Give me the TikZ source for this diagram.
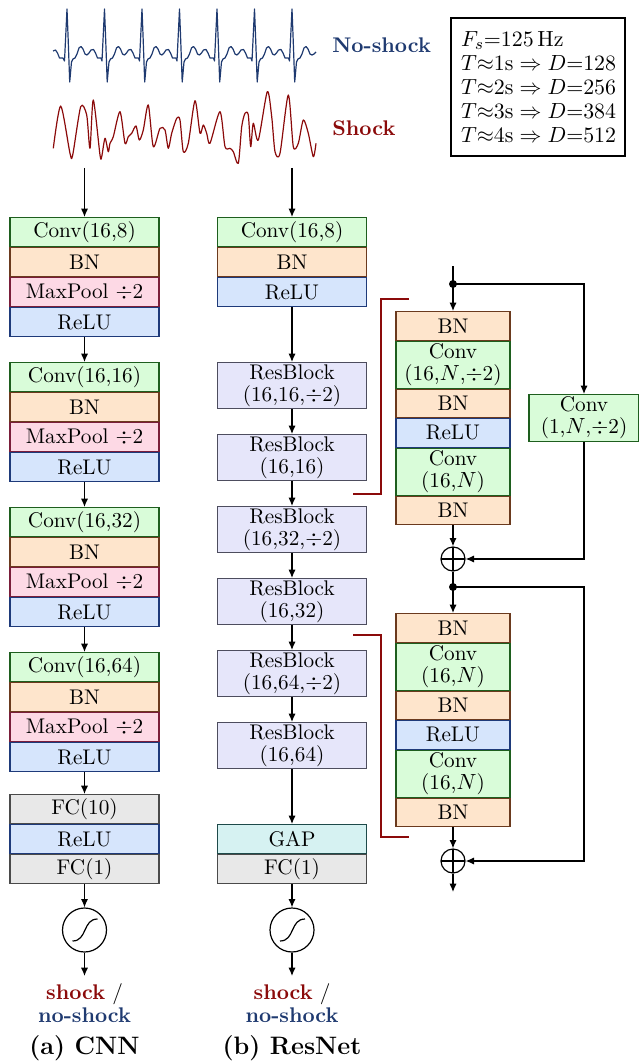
\documentclass[tikz,border=0pt]{standalone}
\usetikzlibrary{arrows.meta,calc}
\definecolor{convfill}{HTML}{D9FCD9}
\definecolor{convdraw}{HTML}{1E5E1E}
\definecolor{bnfill}{HTML}{FEE5CC}
\definecolor{bndraw}{HTML}{6B3A1E}
\definecolor{poolfill}{HTML}{FDD9E5}
\definecolor{pooldraw}{HTML}{7A1E3A}
\definecolor{relufill}{HTML}{D6E5FC}
\definecolor{reludraw}{HTML}{1E3A7A}
\definecolor{resfill}{HTML}{E6E6FA}
\definecolor{resdraw}{HTML}{4D4D5E}
\definecolor{gapfill}{HTML}{D6F2F2}
\definecolor{gapdraw}{HTML}{1E4A4A}
\definecolor{fcfill}{HTML}{E8E8E8}
\definecolor{fcdraw}{HTML}{4A4A4A}
\definecolor{noblue}{HTML}{1F3A70}
\definecolor{shockred}{HTML}{8B0A0A}
\tikzset{
  lay/.style={draw, line width=0.6pt, inner sep=0pt, anchor=north, align=center, font=\fontsize{10.6}{11}\selectfont},
  wide/.style={lay, minimum width=74.5pt, minimum height=14.5pt},
  tall/.style={lay, minimum width=74.5pt, minimum height=23pt},
  nar/.style={lay, minimum width=57pt, minimum height=14.25pt},
  nart/.style={lay, minimum width=57pt, minimum height=23.5pt},
  conv/.style={fill=convfill, draw=convdraw},
  bn/.style={fill=bnfill, draw=bndraw},
  pool/.style={fill=poolfill, draw=pooldraw},
  relu/.style={fill=relufill, draw=reludraw},
  res/.style={fill=resfill, draw=resdraw},
  gap/.style={fill=gapfill, draw=gapdraw},
  fc/.style={fill=fcfill, draw=fcdraw},
  arr/.style={-{Latex[length=4.2pt,width=3.6pt]}, line width=0.6pt},
  ln/.style={line width=0.6pt},
  sig/.style={circle, draw, line width=0.6pt, minimum size=22pt, inner sep=0pt},
  plusnode/.style={circle, draw, line width=0.6pt, minimum size=12pt, inner sep=0pt,
    path picture={\draw[line width=0.6pt] (path picture bounding box.north) -- (path picture bounding box.south)
      (path picture bounding box.west) -- (path picture bounding box.east);}},
  dotnode/.style={circle, fill, inner sep=0pt, minimum size=4pt},
  bracket/.style={shockred, line width=1pt},
}
\begin{document}
\begin{tikzpicture}[x=0.5pt,y=-0.5pt]
\useasboundingbox (0,0) rectangle (638,1064);

% ---- signals ----
\draw[noblue, line width=0.6pt, line join=round]
  (53,51) -- (55.5,50) -- (57.5,53) -- (59.5,58) -- (63,58)
  foreach \k [evaluate=\k as \r using 67+37.5*\k] in {0,...,5} {
    -- ({\r-2.5},61) -- ({\r-1},30) -- (\r,9) -- ({\r+1.2},40) -- ({\r+2.7},82)
    -- ({\r+4.5},62) -- ({\r+6},59) -- ({\r+8},58) -- ({\r+10},54) -- ({\r+12},48)
    -- ({\r+14},46.5) -- ({\r+16},49) -- ({\r+18},54) -- ({\r+20},55) -- ({\r+22},53)
    -- ({\r+24},50) -- ({\r+26.5},49.5) -- ({\r+28.5},53) -- ({\r+30.5},58) -- ({\r+34},58)
  }
  -- (289.5,61) -- (291,30) -- (292,9) -- (293.2,40) -- (294.7,82) -- (296.5,62)
  -- (298,59) -- (300,58) -- (302,54) -- (304,48) -- (306,46.5) -- (308,49)
  -- (310,54) -- (312,55) -- (314,54) -- (316,52);
\draw[shockred, line width=0.6pt, line join=round] plot[smooth, tension=0.45] coordinates {
  (53.3,148.3) (60.7,106) (70,153.3) (72.7,155) (80.7,106.7) (86.7,115) (90,148.3)
  (93.3,100) (100,155) (101.7,156.7) (105,138.3) (108.3,151.7) (110,143.3) (113.3,136.7)
  (120,111.7) (125,143.3) (128.3,136.7) (131.7,133.3) (136,126) (139.3,140) (143.3,130)
  (148.3,105) (153.3,146.7) (160,128.3) (165,130) (168.3,148.3) (171.7,133.3) (176.7,118.3)
  (180,120) (183.3,151.7) (188.3,143.3) (195,100.7) (200,133.3) (203.3,125) (206.7,133.3)
  (210,143.3) (220,111.7) (225,146.7) (230,148.3) (233.3,151.7) (238.3,163.3) (241.7,126.7)
  (245,113.3) (248.3,115) (250.7,146.7) (253.3,123.3) (258.3,140) (267.3,91.7) (271.7,116.7)
  (275,151.7) (280,153.3) (288.3,95) (293.3,146.7) (298.3,143.3) (303.3,120) (308.3,133.3)
  (313.3,156.7) (316,143.3)};
\node[anchor=west, inner sep=0pt, text=noblue, font=\fontsize{10.6}{12}\selectfont\bfseries] (lblno) at (332,45) {No-shock};
\node[anchor=west, inner sep=0pt, text=shockred, font=\fontsize{10.6}{12}\selectfont\bfseries] (lblsh) at (332,128) {Shock};

% ---- legend ----
\node[draw, line width=1pt, anchor=north west, minimum width=87pt, minimum height=69pt,
      inner xsep=5pt, inner ysep=0pt, text width=77pt, align=left, font=\fontsize{10.8}{12}\selectfont]
  (leg) at (450,17) {\mbox{$F_s{=}125\,\mathrm{Hz}$}\\
  \mbox{$T{\approx}1\mathrm{s}\Rightarrow D{=}128$}\\
  \mbox{$T{\approx}2\mathrm{s}\Rightarrow D{=}256$}\\
  \mbox{$T{\approx}3\mathrm{s}\Rightarrow D{=}384$}\\
  \mbox{$T{\approx}4\mathrm{s}\Rightarrow D{=}512$}};

% ---- CNN ----
\coordinate (inA) at (84.5,168);
\node[wide,conv] (a1c) at (84.5,217) {Conv(16,8)};
\node[wide,bn]   (a1b) at (84.5,247) {BN};
\node[wide,pool] (a1p) at (84.5,277) {MaxPool $\div$2};
\node[wide,relu] (a1r) at (84.5,307) {ReLU};
\node[wide,conv] (a2c) at (84.5,362) {Conv(16,16)};
\node[wide,bn]   (a2b) at (84.5,392) {BN};
\node[wide,pool] (a2p) at (84.5,422) {MaxPool $\div$2};
\node[wide,relu] (a2r) at (84.5,452) {ReLU};
\node[wide,conv] (a3c) at (84.5,507) {Conv(16,32)};
\node[wide,bn]   (a3b) at (84.5,537) {BN};
\node[wide,pool] (a3p) at (84.5,567) {MaxPool $\div$2};
\node[wide,relu] (a3r) at (84.5,597) {ReLU};
\node[wide,conv] (a4c) at (84.5,652) {Conv(16,64)};
\node[wide,bn]   (a4b) at (84.5,682) {BN};
\node[wide,pool] (a4p) at (84.5,712) {MaxPool $\div$2};
\node[wide,relu] (a4r) at (84.5,742) {ReLU};
\node[wide,fc]   (af1) at (84.5,794) {FC(10)};
\node[wide,relu] (afr) at (84.5,824) {ReLU};
\node[wide,fc]   (af2) at (84.5,854) {FC(1)};
\node[sig] (sA) at (84.5,930) {};
\draw[ln] ($(sA)+(-12,11)$) .. controls ($(sA)+(3,11)$) and ($(sA)+(-2,-11)$) .. ($(sA)+(13,-11)$);
\coordinate (outA) at (84.5,976);
\node[align=center, font=\fontsize{10.6}{10.6}\selectfont] (resA) at (84.5,1003)
  {{\bfseries\color{shockred}shock} /\\[0.5pt]{\bfseries\color{noblue}no-shock}};
\node[font=\fontsize{12.6}{14}\selectfont\bfseries] (capA) at (84.5,1048) {(a) CNN};
\draw[arr] (inA) -- (a1c);
\draw[arr] (a1r) -- (a2c);
\draw[arr] (a2r) -- (a3c);
\draw[arr] (a3r) -- (a4c);
\draw[arr] (a4r) -- (af1);
\draw[arr] (af2) -- (sA);
\draw[arr] (sA) -- (outA);

% ---- ResNet ----
\coordinate (inB) at (292,168);
\node[wide,conv] (b1c) at (292,217) {Conv(16,8)};
\node[wide,bn]   (b1b) at (292,247) {BN};
\node[wide,relu] (b1r) at (292,277) {ReLU};
\node[tall,res] (r1) at (292,362) {ResBlock\\(16,16,$\div$2)};
\node[tall,res] (r2) at (292,434) {ResBlock\\(16,16)};
\node[tall,res] (r3) at (292,506) {ResBlock\\(16,32,$\div$2)};
\node[tall,res] (r4) at (292,578) {ResBlock\\(16,32)};
\node[tall,res] (r5) at (292,650) {ResBlock\\(16,64,$\div$2)};
\node[tall,res] (r6) at (292,722) {ResBlock\\(16,64)};
\node[wide,gap] (bg) at (292,824) {GAP};
\node[wide,fc]  (bf) at (292,854) {FC(1)};
\node[sig] (sB) at (292,930) {};
\draw[ln] ($(sB)+(-12,11)$) .. controls ($(sB)+(3,11)$) and ($(sB)+(-2,-11)$) .. ($(sB)+(13,-11)$);
\coordinate (outB) at (292,976);
\node[align=center, font=\fontsize{10.6}{10.6}\selectfont] (resB) at (292,1003)
  {{\bfseries\color{shockred}shock} /\\[0.5pt]{\bfseries\color{noblue}no-shock}};
\node[font=\fontsize{12.6}{14}\selectfont\bfseries] (capB) at (292,1048) {(b) ResNet};
\draw[arr] (inB) -- (b1c);
\draw[arr] (b1r) -- (r1);
\draw[arr] (r1) -- (r2);
\draw[arr] (r2) -- (r3);
\draw[arr] (r3) -- (r4);
\draw[arr] (r4) -- (r5);
\draw[arr] (r5) -- (r6);
\draw[arr] (r6) -- (bg);
\draw[arr] (bf) -- (sB);
\draw[arr] (sB) -- (outB);

% ---- Residual block 1 ----
\coordinate (btop) at (453,266);
\node[dotnode] (d1) at (453,284) {};
\node[nar,bn]    (k1) at (453,311)   {BN};
\node[nart,conv] (k2) at (453,340.5) {Conv\\(16,$N$,$\div$2)};
\node[nar,bn]    (k3) at (453,388.5) {BN};
\node[nar,relu]  (k4) at (453,418)   {ReLU};
\node[nart,conv] (k5) at (453,447.5) {Conv\\(16,$N$)};
\node[nar,bn]    (k6) at (453,495.5) {BN};
\node[plusnode]  (p1) at (453,559) {};
\node[lay, minimum width=55pt, minimum height=23.5pt, conv] (sc) at (584,394) {Conv\\(1,$N$,$\div$2)};
\draw[ln] (btop) -- (d1.center);
\draw[arr] (d1.center) -- (k1);
\draw[arr] (d1.center) -| (sc.north);
\draw[arr] (sc.south) |- (p1.east);
\draw[arr] (k6) -- (p1);

% ---- Residual block 2 ----
\node[dotnode] (d2) at (453,587) {};
\node[nar,bn]    (m1) at (453,613)   {BN};
\node[nart,conv] (m2) at (453,642.5) {Conv\\(16,$N$)};
\node[nar,bn]    (m3) at (453,690.5) {BN};
\node[nar,relu]  (m4) at (453,720)   {ReLU};
\node[nart,conv] (m5) at (453,749.5) {Conv\\(16,$N$)};
\node[nar,bn]    (m6) at (453,797.5) {BN};
\node[plusnode]  (p2) at (453,861) {};
\coordinate (c2) at (sc.south |- p2.east);
\coordinate (outC) at (453,892);
\draw[ln] (p1) -- (d2.center);
\draw[arr] (d2.center) -- (m1);
\draw[arr] (d2.center) -| (c2) -- (p2.east);
\draw[arr] (m6) -- (p2);
\draw[arr] (p2) -- (outC);

% ---- brackets ----
\draw[bracket] (409,299) -- (381,299) -- (381,494) -- (353,494);
\draw[bracket] (353,635) -- (381,635) -- (381,837) -- (409,837);
\end{tikzpicture}
\end{document}
